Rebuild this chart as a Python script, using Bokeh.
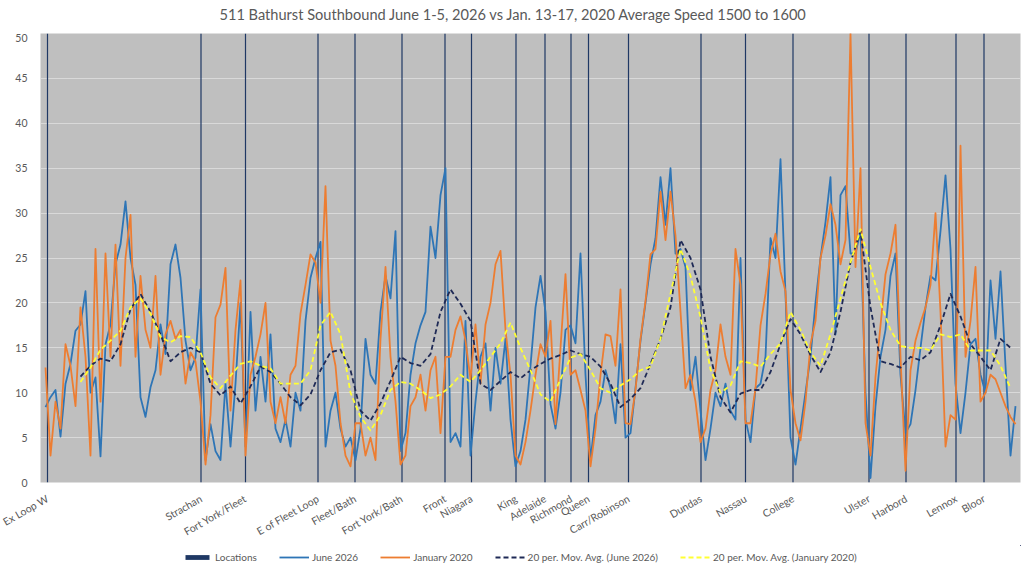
from bokeh.plotting import figure
from bokeh.layouts import column
from bokeh.models import Range1d, FixedTicker, Legend, LegendItem, Label
from bokeh.embed import file_html
from bokeh.resources import INLINE

TITLE = "511 Bathurst Southbound June 1-5, 2026 vs Jan. 13-17, 2020 Average Speed 1500 to 1600"

location_names = ["Ex Loop W", "Strachan", "Fort York/Fleet", "E of Fleet Loop", "Fleet/Bath",
                  "Fort York/Bath", "Front", "Niagara", "King", "Adelaide", "Richmond", "Queen",
                  "Carr/Robinson", "Dundas", "Nassau", "College", "Ulster", "Harbord", "Lennox", "Bloor"]
location_pos = [0.4, 31.1, 40.0, 54.5, 61.9, 71.3, 79.9, 85.2, 94.1, 99.9, 105.1, 108.6,
                116.6, 131.1, 140.0, 149.5, 164.7, 172.1, 182.1, 187.7]

june_2026 = [
    8.4, 9.5, 10.3, 5.1, 11, 13.2, 16.9, 17.6, 21.3, 10,
    11.7, 2.9, 15.4, 17.6, 24.3, 26.5, 31.3, 25, 22, 9.5,
    7.3, 10.6, 12.5, 17.6, 14.3, 24.3, 26.5, 22.8, 15.8, 12.5,
    13.9, 21.5, 2.5, 6.5, 3.5, 2.5, 11, 4, 11, 20,
    4, 19, 8, 14, 9, 16.5, 6, 4.5, 7, 4,
    10, 8, 18, 22.8, 25, 26.8, 4, 8, 10, 6,
    4, 5, 2.5, 6, 16, 12, 11, 19, 23, 20.5,
    28, 3.5, 5.5, 12, 15.5, 17.5, 19, 28.5, 25, 32,
    35, 4.5, 5.5, 4, 18, 3, 9, 14, 15.5, 8,
    15, 11, 16, 7, 1.8, 3.5, 7, 13, 19.5, 23,
    19, 8.7, 6, 10, 17, 17.5, 15.5, 25.5, 12, 2.5,
    7.5, 9, 12.5, 10.5, 6.6, 15.4, 5, 5.5, 10.5, 15.8,
    20, 24.3, 27.2, 34, 28.7, 35, 25.5, 26, 24, 10.3,
    14, 8, 2.5, 6, 10, 8.5, 11, 8, 7, 25,
    7, 4.5, 10.5, 11, 14, 27.2, 25, 36, 21, 5,
    2, 6, 10, 14, 20, 25, 29, 34, 16.5, 32,
    33, 25.5, 25.5, 28, 10, 0.5, 8.5, 14, 17, 23,
    25.5, 12, 5.5, 6.5, 10.3, 15, 19.5, 23, 22.5, 28,
    34.2, 26, 11, 5.5, 10, 15.4, 16, 12, 10, 22.5,
    16, 23.5, 13, 3, 8.5,
]

jan_2020 = [
    12.8, 3, 9, 6, 15.4, 13, 8.5, 19.5, 14, 3,
    26, 9, 25.5, 14, 26.5, 13, 25, 29.8, 14, 23,
    17, 15, 23, 12, 16.5, 18, 16, 17, 11, 14.5,
    13.5, 9, 2, 7.5, 18.4, 19.8, 23.9, 8, 17, 22.5,
    3, 12, 14, 16.5, 20, 9, 6.6, 9.5, 6.6, 12,
    13, 18.8, 22, 25.4, 24.5, 20, 33, 15.8, 13, 6.6,
    3, 1.8, 6.6, 6.6, 3, 5, 2.5, 16, 24, 14,
    9, 2, 3, 8.5, 9.5, 12, 8, 12.5, 14, 5.5,
    14, 14, 17, 18.5, 15.8, 11.5, 17.6, 11, 17.6, 20,
    24.3, 25.8, 17, 12, 3, 2, 4.5, 8, 12, 15.4,
    14, 18, 6.5, 15, 23.2, 12, 12.5, 10.3, 8, 1.8,
    6, 12, 16.5, 16.3, 13, 21.5, 6.6, 6.5, 10.3, 16,
    20.2, 25.4, 26, 32.4, 27, 32.4, 27.5, 19, 10.5, 12,
    9, 4.5, 6, 10.3, 12.5, 17.6, 14, 12, 26, 22,
    6.6, 6.6, 10.5, 17.5, 21, 25.4, 27.7, 23.5, 21.3, 10.3,
    6.6, 4.7, 9, 15.4, 18, 25, 27.5, 31, 28.7, 24.3,
    27, 50, 24, 35, 6.6, 3, 11.8, 17.5, 23.2, 25.5,
    28.7, 14, 1.3, 12.5, 15.8, 17.8, 19.5, 22, 30, 19,
    4, 7.5, 7, 37.5, 14, 18, 24, 9, 10, 12,
    11.5, 10, 8.5, 7.3, 6.5,
]

ma_june_2026 = [
    11.8, 13, 13.8, 13.5, 15.4, 19.3, 21, 19, 16.5, 13.5,
    14.5, 15, 14.5, 11, 9.7, 10.7, 8.8, 10.7, 12.9, 12.3,
    11, 9.5, 8.6, 9.8, 12.5, 14.5, 14.8, 12.5, 8, 6.9,
    8.8, 11.3, 14, 13.3, 13, 14.3, 19, 21.5, 19.9, 18,
    11, 10.3, 11.3, 12.3, 11.6, 12.5, 13.2, 13.8, 14.2, 14.7,
    14.3, 14, 12.9, 11, 8.4, 9.3, 10.5, 13.2, 16, 19.5,
    27, 25, 21.5, 14, 9.5, 7.8, 9.9, 10.3, 10.3, 12.3,
    15.4, 18.2, 16.5, 14.2, 12.3, 14.5, 19, 24.5, 28, 19.5,
    13.5, 13.2, 12.8, 14, 13.6, 14.5, 17.5, 21, 18.5, 15.4,
    14, 12.5, 16, 15,
]

ma_jan_2020 = [
    11.2, 12.8, 14.8, 15.8, 16.9, 19.5, 20.5, 18.8, 16.2, 15.6,
    16.3, 16.2, 14.5, 11.7, 10.5, 11.9, 13.2, 13.5, 13, 12.7,
    11, 11, 11, 12.5, 17.5, 19, 16.5, 10, 7.3, 5.8,
    7.5, 10.3, 11.2, 11, 10.3, 9.4, 9.8, 10.7, 12, 11.2,
    12.5, 14, 15.5, 17.8, 15, 12.5, 9.8, 9, 11.5, 13.9,
    14.3, 12.5, 10.5, 10, 10.8, 11.5, 12.5, 12.9, 16, 21,
    26, 23, 18.4, 12.6, 10, 10.8, 13.5, 13.3, 12.9, 14.3,
    15.5, 19, 17, 14.5, 13, 16.5, 20.5, 24.5, 28.2, 24,
    20, 17, 15.2, 15, 15, 14.7, 16.5, 16.2, 16.5, 14.7,
    14.7, 14.7, 13, 10.5,
]

y_ticks = [0, 5, 10, 15, 20, 25, 30, 35, 40, 45, 50]
series_labels = ["Locations", "June 2026", "January 2020",
                 "20 per. Mov. Avg. (June 2026)", "20 per. Mov. Avg. (January 2020)"]

x_raw = list(range(len(june_2026)))
x_ma = [7 + 2 * i for i in range(len(ma_june_2026))]

FONT = "Lato"
TXT = "#595959"
C_LOC = "#1f3864"
C_JUNE = "#2e75b6"
C_JAN = "#ed7d31"
C_MA_JUNE = "#1f2a56"
C_MA_JAN = "#ffff33"


def draw_series(fig):
    rs = [
        fig.vbar(x=location_pos, top=[50] * len(location_pos), width=0.24,
                 fill_color=C_LOC, line_color=None),
        fig.line(x_raw, june_2026, line_color=C_JUNE, line_width=1.8, line_join="round"),
        fig.line(x_raw, jan_2020, line_color=C_JAN, line_width=1.8, line_join="round"),
        fig.line(x_ma, ma_june_2026, line_color=C_MA_JUNE, line_width=1.8,
                 line_dash="5 3", line_join="round"),
        fig.line(x_ma, ma_jan_2020, line_color=C_MA_JAN, line_width=1.8,
                 line_dash="5 3", line_join="round"),
    ]
    return rs


def strip(height):
    f = figure(width=1024, height=height, x_range=Range1d(0, 1024), y_range=Range1d(0, height),
               output_backend="svg", toolbar_location=None,
               x_axis_location=None, y_axis_location=None,
               min_border_left=0, min_border_right=0, min_border_top=0, min_border_bottom=0)
    f.title.visible = False
    f.title.standoff = 0
    f.grid.visible = False
    f.outline_line_color = None
    f.background_fill_color = "white"
    f.border_fill_color = "white"
    return f


# title strip
tf = strip(33)
tf.add_layout(Label(x=187, y=19, x_units="data", y_units="screen", text=TITLE,
                    text_font=FONT, text_font_size="14.6px", text_color=TXT,
                    text_align="left", text_baseline="middle"))

# main chart
p = figure(width=1024, height=512, x_range=Range1d(-1, 195), y_range=Range1d(0, 50),
           output_backend="svg", toolbar_location=None,
           min_border_left=40, min_border_right=4, min_border_top=0, min_border_bottom=56)
p.title.visible = False
p.title.standoff = 0

p.background_fill_color = "#bfbfbf"
p.border_fill_color = "white"
p.outline_line_color = None

p.xgrid.visible = False
p.ygrid.grid_line_color = "#d9d9d9"
p.ygrid.grid_line_width = 1
p.ygrid.ticker = FixedTicker(ticks=y_ticks)

p.yaxis.ticker = FixedTicker(ticks=y_ticks)
p.yaxis.axis_line_color = None
p.yaxis.major_tick_line_color = None
p.yaxis.minor_tick_line_color = None
p.yaxis.major_label_text_font = FONT
p.yaxis.major_label_text_font_size = "10.5px"
p.yaxis.major_label_text_color = TXT
p.yaxis.major_label_standoff = 7

p.xaxis.ticker = FixedTicker(ticks=location_pos)
p.xaxis.major_label_overrides = {pos: name for pos, name in zip(location_pos, location_names)}
p.xaxis.axis_line_color = None
p.xaxis.major_tick_line_color = None
p.xaxis.minor_tick_line_color = None
p.xaxis.major_label_orientation = 0.52
p.xaxis.major_label_text_font = FONT
p.xaxis.major_label_text_font_size = "10.5px"
p.xaxis.major_label_text_color = TXT
p.xaxis.major_label_standoff = 9

draw_series(p)

# legend strip: same series drawn outside its visible range, so only the legend shows
lg = figure(width=1024, height=24, x_range=Range1d(-1000, -999), y_range=Range1d(-1000, -999),
            output_backend="svg", toolbar_location=None,
            x_axis_location=None, y_axis_location=None,
            min_border_left=0, min_border_right=0, min_border_top=0, min_border_bottom=0)
lg.grid.visible = False
lg.outline_line_color = None
lg.background_fill_color = "white"
lg.border_fill_color = "white"
lg_renderers = draw_series(lg)

legend = Legend(items=[LegendItem(label=lab, renderers=[r]) for lab, r in
                       zip(series_labels, lg_renderers)],
                orientation="horizontal", location=(142, 6))
legend.label_text_font = FONT
legend.label_text_font_size = "10px"
legend.label_text_color = TXT
legend.glyph_width = 30
legend.glyph_height = 6
legend.label_standoff = 3
legend.spacing = 22
legend.margin = 0
legend.padding = 2
legend.border_line_color = None
legend.background_fill_alpha = 0
lg.add_layout(legend, "center")

layout = column(tf, p, lg, spacing=0)
open("out.html", "w").write(file_html(layout, INLINE))
